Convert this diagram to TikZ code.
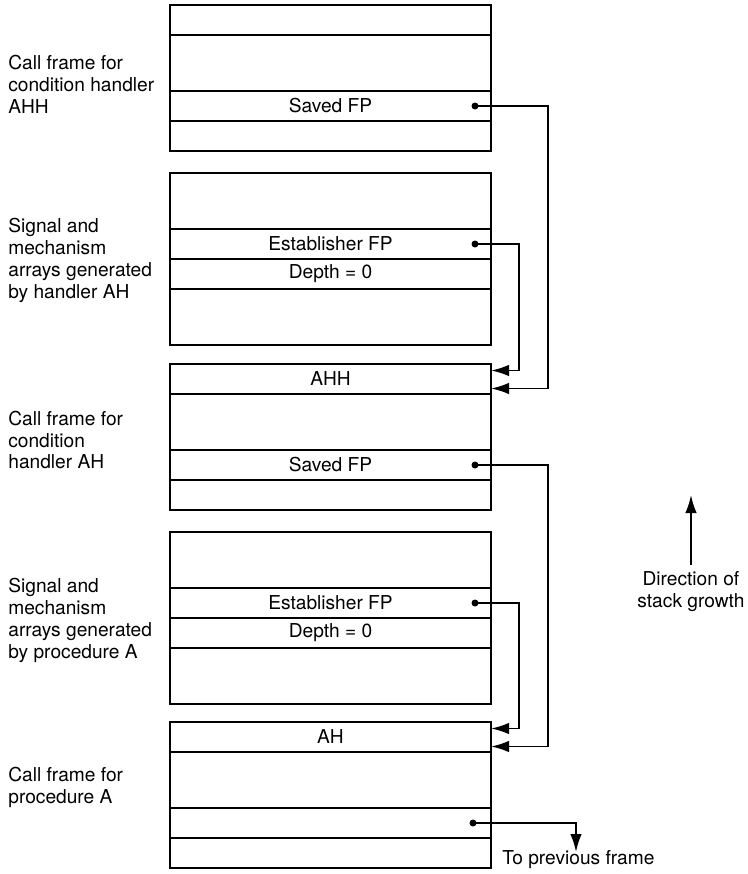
\documentclass[tikz,border=0pt]{standalone}
\usepackage{fontspec}
\setmainfont{TeX Gyre Heros}
\usetikzlibrary{positioning, calc, arrows.meta}

\begin{document}
\begin{tikzpicture}[
  cell/.style={rectangle, draw, line width=1.1pt,
               minimum width=6.42cm, minimum height=0.6cm,
               inner sep=0pt, outer sep=0pt,
               font=\fontsize{10.9}{12.5}\selectfont},
  tallcell/.style={cell, minimum height=1.12cm},
  lbl/.style={anchor=west, align=left, inner sep=0pt,
              font=\fontsize{10.9}{12.5}\selectfont},
  ptrdot/.style={circle, fill, inner sep=0pt, minimum size=0.14cm},
  ptr/.style={-{Latex[length=3.6mm, width=2.3mm]},
              line width=1.1pt}
]
\useasboundingbox (0,0) rectangle (14.94,-17.48);

%% --- CALL FRAME FOR CONDITION HANDLER AHH ---
\node[cell, anchor=north] (cfahh1) at (6.61,-0.1) {};
\node[tallcell, below=0pt of cfahh1] (cfahh2) {};
\node[cell, below=0pt of cfahh2] (cfahh3) {Saved FP};
\node[cell, below=0pt of cfahh3] (cfahh4) {};
\node[lbl] (lcfahh) at (0.16,-1.68)
  {Call frame for\\condition handler\\AHH};

%% --- SIGNAL AND MECHANISM ARRAYS (HANDLER AH) ---
\node[tallcell, anchor=north] (sigah1) at (6.61,-3.46) {};
\node[cell, below=0pt of sigah1] (sigah2) {Establisher FP};
\node[cell, below=0pt of sigah2] (sigah3) {Depth = 0};
\node[tallcell, below=0pt of sigah3] (sigah4) {};
\node[lbl] (lsigah) at (0.16,-5.2)
  {Signal and\\mechanism\\arrays generated\\by handler AH};

%% --- CALL FRAME FOR CONDITION HANDLER AH ---
\node[cell, anchor=north] (cfah1) at (6.61,-7.28) {AHH};
\node[tallcell, below=0pt of cfah1] (cfah2) {};
\node[cell, below=0pt of cfah2] (cfah3) {Saved FP};
\node[cell, below=0pt of cfah3] (cfah4) {};
\node[lbl] (lcfah) at (0.16,-8.8)
  {Call frame for\\condition\\handler AH};

%% --- SIGNAL AND MECHANISM ARRAYS (PROCEDURE A) ---
\node[tallcell, anchor=north] (siga1) at (6.61,-10.64) {};
\node[cell, below=0pt of siga1] (siga2) {Establisher FP};
\node[cell, below=0pt of siga2] (siga3) {Depth = 0};
\node[tallcell, below=0pt of siga3] (siga4) {};
\node[lbl] (lsiga) at (0.16,-12.4)
  {Signal and\\mechanism\\arrays generated\\by procedure A};

%% --- CALL FRAME FOR PROCEDURE A ---
\node[cell, anchor=north] (cfa1) at (6.61,-14.44) {AH};
\node[tallcell, below=0pt of cfa1] (cfa2) {};
\node[cell, below=0pt of cfa2] (cfa3) {};
\node[cell, below=0pt of cfa3] (cfa4) {};
\node[lbl] (lcfa) at (0.16,-15.74)
  {Call frame for\\procedure A};

%% --- POINTERS ---
\coordinate (inner) at (10.38,0);
\coordinate (outer) at (10.96,0);

\node[ptrdot] (d1) at ($(cfahh3.east)+(-0.32,0)$) {};
\node[ptrdot] (d2) at ($(sigah2.east)+(-0.32,0)$) {};
\node[ptrdot] (d3) at ($(cfah3.east)+(-0.32,0)$) {};
\node[ptrdot] (d4) at ($(siga2.east)+(-0.32,0)$) {};
\node[ptrdot] (d5) at ($(cfa3.east)+(-0.36,0)$) {};

\draw[ptr] (d1.center) -- (d1.center -| outer)
  |- ($(cfah1.east)+(0,-0.19)$);
\draw[ptr] (d2.center) -- (d2.center -| inner)
  |- ($(cfah1.east)+(0,0.17)$);
\draw[ptr] (d3.center) -- (d3.center -| outer)
  |- ($(cfa1.east)+(0,-0.19)$);
\draw[ptr] (d4.center) -- (d4.center -| inner)
  |- ($(cfa1.east)+(0,0.17)$);

\coordinate (prev) at (11.52,-17.04);
\draw[ptr] (d5.center) -| (prev);
\node[lbl] (lprev) at (10.04,-17.2) {To previous frame};

%% --- STACK GROWTH ---
\coordinate (gtail) at (13.82,-11.3);
\coordinate (ghead) at (13.82,-9.9);
\draw[ptr] (gtail) -- (ghead);
\node[below=0.12cm of gtail, align=center, inner sep=0pt,
      font=\fontsize{10.9}{12.5}\selectfont] (lgrowth)
  {Direction of\\stack growth};

\end{tikzpicture}
\end{document}
